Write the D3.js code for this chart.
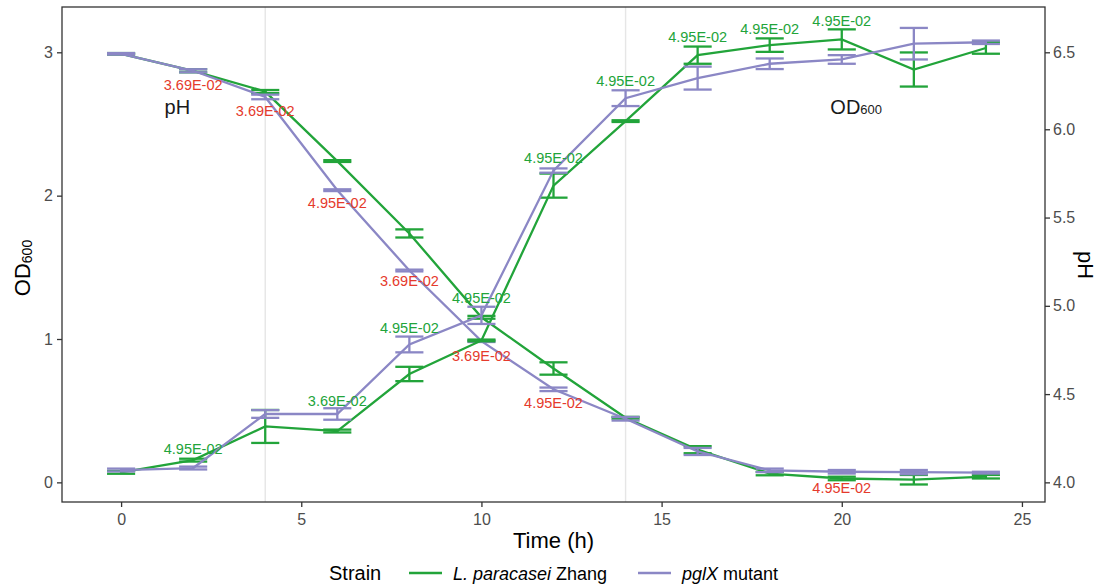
<!DOCTYPE html>
<html>
<head>
<meta charset="utf-8">
<script src="https://cdn.jsdelivr.net/npm/d3@7"></script>
<style>
  body { margin: 0; background: #fff; }
  svg { font-family: "Liberation Sans", Arial, sans-serif; }
</style>
</head>
<body>
<svg id="chart" width="1106" height="588"></svg>
<script>
// sampling times (h)
const times = [0, 2, 4, 6, 8, 10, 12, 14, 16, 18, 20, 22, 24];

// OD600, mean and sd
const odZhang     = [0.07, 0.155, 0.39, 0.358, 0.756, 0.99, 2.07, 2.52, 2.98, 3.05, 3.09, 2.88, 3.03];
const odZhangSd   = [0.01, 0.01, 0.115, 0.01, 0.05, 0.006, 0.084, 0.006, 0.06, 0.047, 0.07, 0.119, 0.04];
const odMutant    = [0.086, 0.10, 0.477, 0.477, 0.962, 1.165, 2.175, 2.68, 2.82, 2.92, 2.95, 3.06, 3.07];
const odMutantSd  = [0.01, 0.01, 0.027, 0.04, 0.055, 0.06, 0.015, 0.055, 0.08, 0.037, 0.03, 0.11, 0.012];

// pH, mean and sd
const phZhang     = [6.49, 6.38, 6.245, 5.82, 5.41, 4.935, 4.645, 4.366, 4.185, 4.05, 4.022, 4.015, 4.032];
const phZhangSd   = [0.005, 0.01, 0.01, 0.005, 0.023, 0.008, 0.035, 0.005, 0.02, 0.01, 0.01, 0.027, 0.01];
const phMutant    = [6.49, 6.38, 6.21, 5.655, 5.2, 4.8, 4.527, 4.36, 4.175, 4.068, 4.06, 4.058, 4.055];
const phMutantSd  = [0.005, 0.01, 0.015, 0.005, 0.005, 0.005, 0.01, 0.01, 0.02, 0.01, 0.01, 0.012, 0.005];

// p-value annotations (time, position on the OD axis, text)
const odLabels = [
  [2, 0.23, '4.95E-02'], [6, 0.57, '3.69E-02'], [8, 1.08, '4.95E-02'],
  [10, 1.285, '4.95E-02'], [12, 2.26, '4.95E-02'], [14, 2.8, '4.95E-02'],
  [16, 3.105, '4.95E-02'], [18, 3.16, '4.95E-02'], [20, 3.215, '4.95E-02']
];
const phLabels = [
  [2, 2.772, '3.69E-02'], [4, 2.593, '3.69E-02'], [6, 1.951, '4.95E-02'],
  [8, 1.405, '3.69E-02'], [10, 0.88, '3.69E-02'], [12, 0.551, '4.95E-02'],
  [20, -0.041, '4.95E-02']
];

const xTicks = [0, 5, 10, 15, 20, 25];
const odTicks = [0, 1, 2, 3];
const phTicks = [4.0, 4.5, 5.0, 5.5, 6.0, 6.5];

const strains = ['L. paracasei Zhang', 'pglX mutant'];
const colors = ['#22a43a', '#8b87c5'];
const red = '#e53a2c';

const svg = d3.select('#chart');
const panel = { left: 62, right: 1045, top: 7, bottom: 502 };

const x = d3.scaleLinear().domain([-1.64, 25.64]).range([panel.left, panel.right]);
const y = d3.scaleLinear().domain([-0.137, 3.316]).range([panel.bottom, panel.top]);
// secondary pH axis as drawn in the original (not quite linear at the top)
const yPh = d3.scaleLinear().domain([4, 6, 6.5]).range([y(0), y(2.463), y(3)]);

// vertical guide lines
svg.selectAll('.guide')
  .data([4, 14])
  .enter().append('line')
  .attr('x1', d => x(d)).attr('x2', d => x(d))
  .attr('y1', panel.top).attr('y2', panel.bottom)
  .attr('stroke', '#e6e6e6').attr('stroke-width', 1.4);

const capW = 0.39;
function drawSeries(vals, sds, yScale, color) {
  const pts = times.map((t, i) => ({ t, v: vals[i], sd: sds[i] }));
  const g = svg.append('g');
  g.append('path')
    .datum(pts)
    .attr('fill', 'none')
    .attr('stroke', color)
    .attr('stroke-width', 2.3)
    .attr('d', d3.line().x(d => x(d.t)).y(d => yScale(d.v)));
  const eb = g.selectAll('.eb').data(pts).enter().append('g')
    .attr('stroke', color).attr('stroke-width', 2.3);
  eb.append('line')
    .attr('x1', d => x(d.t)).attr('x2', d => x(d.t))
    .attr('y1', d => yScale(d.v - d.sd)).attr('y2', d => yScale(d.v + d.sd));
  eb.append('line')
    .attr('x1', d => x(d.t - capW)).attr('x2', d => x(d.t + capW))
    .attr('y1', d => yScale(d.v - d.sd)).attr('y2', d => yScale(d.v - d.sd));
  eb.append('line')
    .attr('x1', d => x(d.t - capW)).attr('x2', d => x(d.t + capW))
    .attr('y1', d => yScale(d.v + d.sd)).attr('y2', d => yScale(d.v + d.sd));
}

drawSeries(phZhang, phZhangSd, yPh, colors[0]);
drawSeries(phMutant, phMutantSd, yPh, colors[1]);
drawSeries(odZhang, odZhangSd, y, colors[0]);
drawSeries(odMutant, odMutantSd, y, colors[1]);

// p-value text
function drawLabels(list, color) {
  svg.append('g').selectAll('text')
    .data(list)
    .enter().append('text')
    .attr('x', d => x(d[0]))
    .attr('y', d => y(d[1]))
    .attr('text-anchor', 'middle')
    .attr('dominant-baseline', 'central')
    .attr('font-size', 14.5)
    .attr('fill', color)
    .text(d => d[2]);
}
drawLabels(odLabels, colors[0]);
drawLabels(phLabels, red);

// in-panel curve names
svg.append('text')
  .attr('x', x(1.56)).attr('y', y(2.62))
  .attr('text-anchor', 'middle').attr('dominant-baseline', 'central')
  .attr('font-size', 20).attr('fill', '#1a1a1a')
  .text('pH');
const odNote = svg.append('text')
  .attr('x', x(20.4)).attr('y', y(2.62))
  .attr('text-anchor', 'middle').attr('dominant-baseline', 'central')
  .attr('font-size', 20).attr('fill', '#1a1a1a');
odNote.append('tspan').text('OD');
odNote.append('tspan').attr('font-size', 13).attr('dy', 2).text('600');

// panel border
svg.append('rect')
  .attr('x', panel.left).attr('y', panel.top)
  .attr('width', panel.right - panel.left).attr('height', panel.bottom - panel.top)
  .attr('fill', 'none').attr('stroke', '#333').attr('stroke-width', 1.3);

function styleAxis(g) {
  g.select('.domain').remove();
  g.selectAll('.tick line').attr('stroke', '#333').attr('stroke-width', 1.3);
  g.selectAll('.tick text').attr('fill', '#4d4d4d').attr('font-size', 16)
    .attr('font-family', '"Liberation Sans", Arial, sans-serif');
}

svg.append('g')
  .attr('transform', `translate(0,${panel.bottom})`)
  .call(d3.axisBottom(x).tickValues(xTicks).tickSize(5).tickPadding(7))
  .call(styleAxis);

svg.append('g')
  .attr('transform', `translate(${panel.left},0)`)
  .call(d3.axisLeft(y).tickValues(odTicks).tickFormat(d3.format('d')).tickSize(5).tickPadding(4))
  .call(styleAxis);

svg.append('g')
  .attr('transform', `translate(${panel.right},0)`)
  .call(d3.axisRight(yPh).tickValues(phTicks).tickFormat(d3.format('.1f')).tickSize(5).tickPadding(3))
  .call(styleAxis);

// axis titles
svg.append('text')
  .attr('x', (panel.left + panel.right) / 2).attr('y', 548)
  .attr('text-anchor', 'middle').attr('font-size', 22).attr('fill', '#000')
  .text('Time (h)');

const yTitle = svg.append('text')
  .attr('transform', 'translate(30,268) rotate(-90)')
  .attr('text-anchor', 'middle').attr('font-size', 22).attr('fill', '#000');
yTitle.append('tspan').text('OD');
yTitle.append('tspan').attr('font-size', 14).attr('dy', 2).text('600');

svg.append('text')
  .attr('transform', 'translate(1078,265) rotate(90)')
  .attr('text-anchor', 'middle').attr('font-size', 22).attr('fill', '#000')
  .text('pH');

// legend
const legend = svg.append('g').attr('transform', 'translate(0,573)');
legend.append('text').attr('x', 329).attr('y', 7).attr('font-size', 20).attr('fill', '#000').text('Strain');

const legendItems = [
  { x: 409, parts: [['L. paracasei', true], [' Zhang', false]] },
  { x: 638, parts: [['pglX', true], [' mutant', false]] }
];
legendItems.forEach((item, i) => {
  legend.append('line')
    .attr('x1', item.x).attr('x2', item.x + 33)
    .attr('y1', 0).attr('y2', 0)
    .attr('stroke', colors[i]).attr('stroke-width', 2.3);
  const t = legend.append('text')
    .attr('x', item.x + 44).attr('y', 7)
    .attr('font-size', 18).attr('fill', '#000');
  item.parts.forEach(p => {
    t.append('tspan').attr('font-style', p[1] ? 'italic' : 'normal').text(p[0]);
  });
});
</script>
</body>
</html>
